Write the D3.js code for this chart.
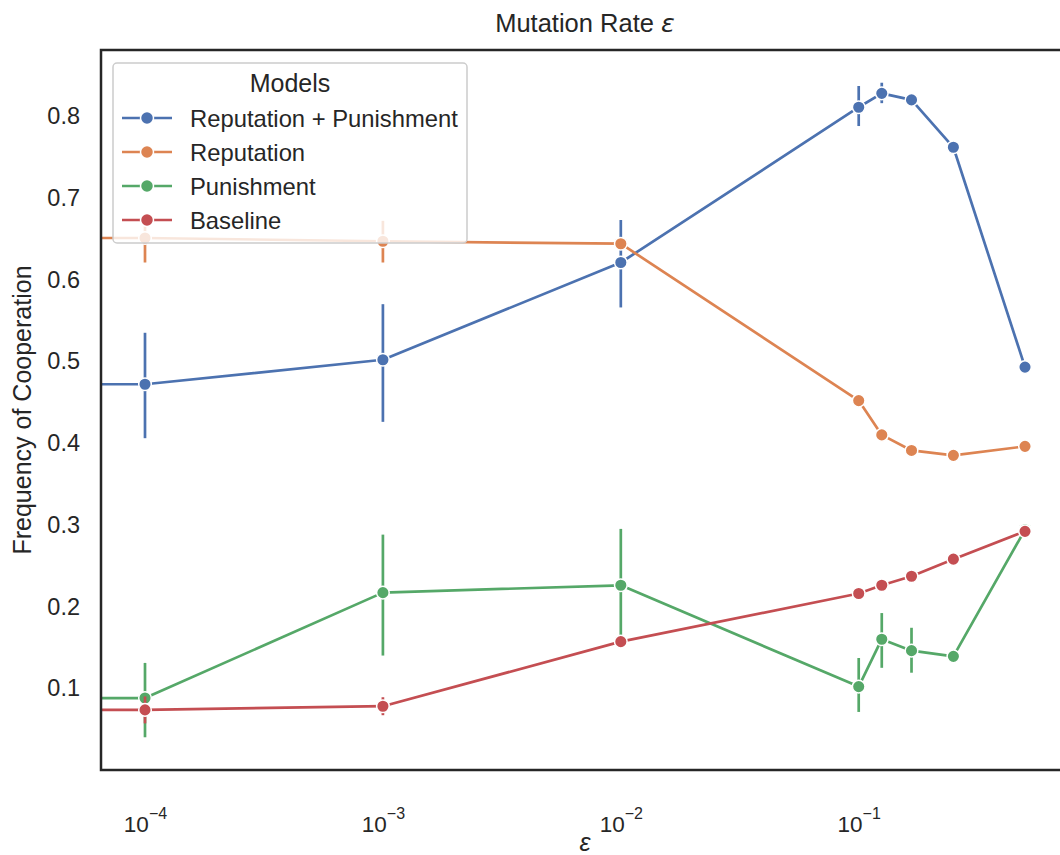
<!DOCTYPE html>
<html><head><meta charset="utf-8">
<script src="https://cdn.jsdelivr.net/npm/d3@7"></script>
<style>
body{margin:0;background:#fff;overflow:hidden}
svg{display:block}
text{font-family:"Liberation Sans",Arial,sans-serif;fill:#262626}
</style>
</head><body><svg id="c" width="1060" height="855"></svg>
<script>
// ---- data ----
const epsilons = [0.0001, 0.001, 0.01, 0.1, 0.125, 0.1667, 0.25, 0.5];
const seriesNames = ["Reputation + Punishment", "Reputation", "Punishment", "Baseline"];
const seriesColors = ["#4c72b0", "#dd8452", "#55a868", "#c44e52"];

const repPunMean = [0.472, 0.502, 0.621, 0.811, 0.828, 0.820, 0.762, 0.493];
const repPunLow  = [0.406, 0.426, 0.566, 0.788, 0.816, 0.815, 0.758, 0.489];
const repPunHigh = [0.535, 0.570, 0.673, 0.837, 0.841, 0.825, 0.766, 0.497];

const repMean = [0.651, 0.647, 0.644, 0.452, 0.410, 0.391, 0.385, 0.396];
const repLow  = [0.621, 0.621, 0.638, 0.448, 0.406, 0.388, 0.382, 0.392];
const repHigh = [0.668, 0.672, 0.650, 0.456, 0.414, 0.394, 0.388, 0.400];

const punMean = [0.088, 0.217, 0.226, 0.102, 0.160, 0.146, 0.139, 0.294];
const punLow  = [0.040, 0.140, 0.154, 0.071, 0.125, 0.119, 0.135, 0.290];
const punHigh = [0.131, 0.288, 0.295, 0.137, 0.192, 0.174, 0.143, 0.298];

const baseMean = [0.0735, 0.078, 0.157, 0.216, 0.226, 0.237, 0.258, 0.292];
const baseLow  = [0.057, 0.067, 0.152, 0.212, 0.222, 0.233, 0.254, 0.288];
const baseHigh = [0.090, 0.089, 0.162, 0.220, 0.230, 0.241, 0.262, 0.296];

// value at epsilon = 0 (drawn on a log axis, clipped far to the left)
const zeroEpsMean = [0.472, 0.651, 0.088, 0.0735];

const yTicks = [0.1, 0.2, 0.3, 0.4, 0.5, 0.6, 0.7, 0.8];
const xTickExps = [-4, -3, -2, -1];

const series = seriesNames.map((name, i) => ({
  name, color: seriesColors[i],
  mean: [repPunMean, repMean, punMean, baseMean][i],
  low: [repPunLow, repLow, punLow, baseLow][i],
  high: [repPunHigh, repHigh, punHigh, baseHigh][i],
  zero: zeroEpsMean[i]
}));

// ---- layout ----
const svg = d3.select("#c");
const mLeft = 101, mTop = 50, plotW = 968, plotH = 720;

const lo = Math.log10(d3.min(epsilons)), hi = Math.log10(d3.max(epsilons));
const xpad = 0.05 * (hi - lo);
const x = d3.scaleLog().domain([10 ** (lo - xpad), 10 ** (hi + xpad)]).range([mLeft, mLeft + plotW]);

const allLow = d3.min(series, s => d3.min(s.low));
const allHigh = d3.max(series, s => d3.max(s.high));
const ypad = 0.05 * (allHigh - allLow);
const y = d3.scaleLinear().domain([allLow - ypad, allHigh + ypad]).range([mTop + plotH, mTop]);

const xOf = e => x(e === 0 ? 1e-30 : e);

svg.append("defs").append("clipPath").attr("id", "clip")
  .append("rect").attr("x", mLeft).attr("y", mTop).attr("width", plotW).attr("height", plotH);

const plot = svg.append("g").attr("clip-path", "url(#clip)");

series.forEach(s => {
  const g = plot.append("g");
  g.selectAll("line.err").data(epsilons).join("line")
    .attr("x1", d => xOf(d)).attr("x2", d => xOf(d))
    .attr("y1", (d, i) => y(s.low[i])).attr("y2", (d, i) => y(s.high[i]))
    .attr("stroke", s.color).attr("stroke-width", 2.7);
  const pts = [[0, s.zero]].concat(epsilons.map((e, i) => [e, s.mean[i]]));
  g.append("path").datum(pts)
    .attr("d", d3.line().x(d => xOf(d[0])).y(d => y(d[1])))
    .attr("fill", "none").attr("stroke", s.color).attr("stroke-width", 2.7)
    .attr("stroke-linejoin", "round");
  g.selectAll("circle").data(epsilons).join("circle")
    .attr("cx", d => xOf(d)).attr("cy", (d, i) => y(s.mean[i]))
    .attr("r", 6.3).attr("fill", s.color).attr("stroke", "#fff").attr("stroke-width", 1.5);
});

// ---- axes frame ----
svg.append("rect").attr("x", mLeft).attr("y", mTop).attr("width", plotW).attr("height", plotH)
  .attr("fill", "none").attr("stroke", "#262626").attr("stroke-width", 2.5);

const yAxis = d3.axisLeft(y).tickValues(yTicks).tickSize(0).tickPadding(21).tickFormat(d3.format(".1f"));
const gy = svg.append("g").attr("transform", `translate(${mLeft},0)`).call(yAxis);
gy.select(".domain").remove();
gy.selectAll("text").attr("font-size", 23.5).attr("fill", "#262626")
  .attr("font-family", '"Liberation Sans",Arial,sans-serif');

const xAxis = d3.axisBottom(x).tickValues(xTickExps.map(e => 10 ** e)).tickSize(0).tickPadding(0).tickFormat(() => "");
const gx = svg.append("g").attr("transform", `translate(0,${mTop + plotH})`).call(xAxis);
gx.select(".domain").remove();
gx.selectAll(".tick").each(function (d, i) {
  const t = d3.select(this).append("text").attr("y", 62).attr("text-anchor", "middle")
    .attr("font-size", 22.5).attr("fill", "#262626")
    .attr("font-family", '"DejaVu Sans",sans-serif');
  t.append("tspan").text("10");
  t.append("tspan").attr("dy", -13).attr("font-size", 16).text("\u2212" + Math.abs(xTickExps[i]));
});

svg.append("text").attr("x", mLeft + plotW / 2).attr("y", 32).attr("text-anchor", "middle")
  .attr("font-size", 25.5).html('Mutation Rate <tspan font-style="italic" font-family="DejaVu Sans">ε</tspan>');
svg.append("text").attr("x", mLeft + plotW / 2).attr("y", 851).attr("text-anchor", "middle")
  .attr("font-size", 25).attr("font-style", "italic").attr("font-family", "DejaVu Sans").text("ε");
svg.append("text").attr("transform", `translate(31,${mTop + plotH / 2}) rotate(-90)`)
  .attr("text-anchor", "middle").attr("font-size", 25).text("Frequency of Cooperation");

// ---- legend ----
const lg = svg.append("g");
lg.append("rect").attr("x", 113).attr("y", 63).attr("width", 354).attr("height", 180).attr("rx", 4)
  .attr("fill", "#fff").attr("fill-opacity", 0.8).attr("stroke", "#cccccc").attr("stroke-width", 1.5);
lg.append("text").attr("x", 290).attr("y", 92).attr("text-anchor", "middle").attr("font-size", 25).text("Models");
series.forEach((s, i) => {
  const cy = 118 + i * 34;
  lg.append("line").attr("x1", 122).attr("x2", 172).attr("y1", cy).attr("y2", cy)
    .attr("stroke", s.color).attr("stroke-width", 2.7);
  lg.append("circle").attr("cx", 147).attr("cy", cy).attr("r", 6.5).attr("fill", s.color)
    .attr("stroke", "#fff").attr("stroke-width", 1.5);
  lg.append("text").attr("x", 190).attr("y", cy + 8.5).attr("font-size", 23.8).text(s.name);
});
</script>
</body></html>
